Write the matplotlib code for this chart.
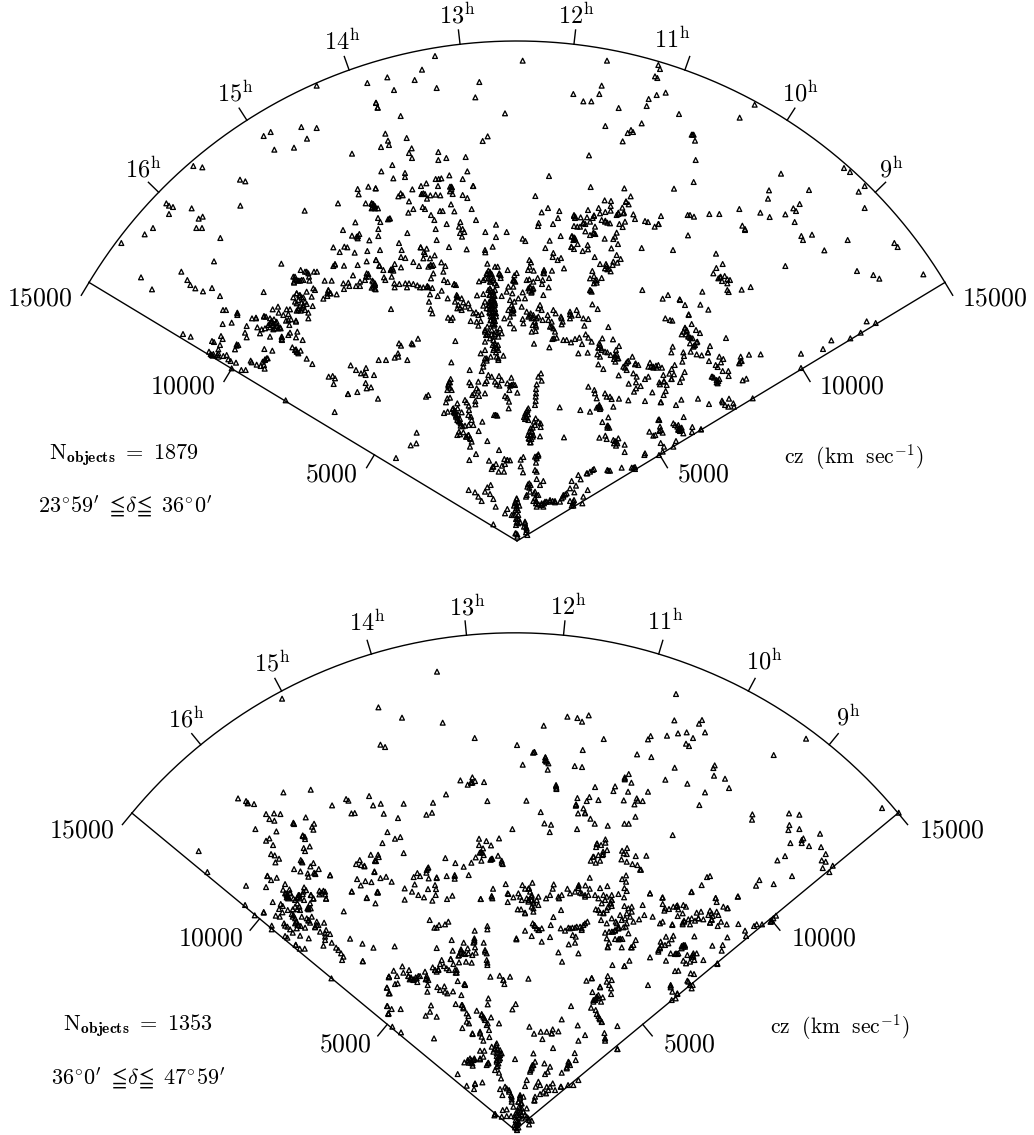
#!/usr/bin/env python3
# Redshift wedge diagrams, two declination slices.
# Galaxy positions were digitised from six sheets per slice: each reading is
# (right, down) from the sheet corner, in steps of about 10 km/s.

import numpy as np
import matplotlib
matplotlib.use("Agg")
from matplotlib import pyplot as plt

W, H = 1034, 1135

hour_ticks = [9, 10, 11, 12, 13, 14, 15, 16]
cz_ticks = [5000, 10000, 15000]
ra_min, ra_max, ra_mid = 8.0, 17.0, 12.5
cz_max = 15000.0

upper_n_objects = 1879
lower_n_objects = 1353
upper_dec = r"$23^{\circ}59^{\prime}\ \leqq\!\delta\!\leqq\ 36^{\circ}0^{\prime}$"
lower_dec = r"$36^{\circ}0^{\prime}\ \leqq\!\delta\!\leqq\ 47^{\circ}59^{\prime}$"

# degrees of wedge per hour of RA in each slice
upper_rate = 13.08
lower_rate = 11.2

# sheet corners (km/s east, km/s north of the apex)
upper_corners = [(-12810, 14430), (-4410, 14730), (3990, 14430), (-14310, 7530), (-4410, 7380), (3990, 7380)]
lower_corners = [(-11615, 14180), (-3922, 14482), (3771, 14180), (-14029, 7241), (-3922, 7241), (3771, 7241)]
upper_step = 10.0
lower_step = 10.06

upper_nw = [(680,77),(832,69),(858,128),(863,143),(310,318),(337,322),(521,228),(542,216),(634,201),(680,204),(651,236),(553,269),(612,263),(786,281),(450,359),(466,364),(803,387),(835,380),(857,385),(806,403),(229,430),(237,437),(249,441),(237,462),(305,445),(451,437),(644,452),(744,430),(827,430),(845,430),(850,435),(855,445),(845,445),(338,470),(326,476),(319,504),(336,504),(189,504),(164,523),(94,549),(391,534),(796,487),(759,510),(786,527),(800,530),(808,522),(803,535),(838,541),(730,562),(763,560),(772,562),(749,576),(794,578),(832,573),(372,604),(574,611),(274,635),(153,652),(292,660),(301,675),(316,685),(339,694),(366,684),(390,708),(186,688),(521,696),(632,630),(645,635),(655,640),(657,650),(672,635),(681,635),(610,650),(615,658),(625,662),(635,660),(612,665),(658,662),(704,662),(725,662),(789,646),(762,617),(803,615),(830,604),(858,600),(735,612),(730,618),(830,640),(835,650),(825,660),(760,670),(775,668),(810,665),(850,665),(762,687),(778,678),(798,678),(810,678),(855,675),(845,683),(857,688),(670,685),(675,690),(650,695),(620,700),(630,705),(610,712),(640,712),(665,710),(715,692),(720,700),(740,703),(712,708),(700,716),
    (615,650),(620,660),(630,662),(612,668),(640,660),(620,700),(628,706),(635,712),(715,690),(722,700),(712,700),(650,635),(735,614),(850,432),(848,442),(804,528),(828,650),(835,642)]

upper_n = [(195,18),(458,32),(711,32),(156,59),(52,82),(134,90),(72,120),(200,114),(328,96),(316,142),(610,132),(695,107),(688,132),(640,154),(664,154),(865,45),(855,79),(862,84),(860,135),(836,147),(830,168),(746,174),(815,220),(706,228),(18,159),(23,173),(92,198),(405,190),(46,251),(110,264),(54,272),(57,285),(33,291),(338,273),(353,259),(783,240),(773,249),(789,246),(758,274),(125,295),(117,309),(126,324),(205,306),(205,330),(229,324),(287,321),(657,316),(67,345),(34,364),(105,369),(105,381),(70,385),(292,364),(238,376),(197,387),(206,387),(214,385),(278,387),(537,378),(17,415),(127,418),(153,408),(169,400),(204,408),(244,410),(240,424),(248,432),(309,408),(662,411),(763,415),(782,439),(92,430),(85,439),(98,436),(155,432),(165,432),(181,436),(171,446),(197,434),(211,436),(278,435),(292,444),(496,438),(704,451),(723,453),(768,456),(776,463),(117,454),(5,460),(10,465),(15,468),(24,475),(243,463),(158,471),(165,477),(130,477),(115,488),(210,483),(218,483),(253,484),(305,477),(534,474),(515,487),(568,483),(654,480),(686,474),(722,468),(757,473),(183,495),(24,504),(58,506),(193,510),(31,516),(318,510),(230,522),(271,516),(267,530),(378,524),(506,519),(504,528),(549,522),(564,504),(612,498),(615,504),(632,502),(651,502),(672,496),(690,490),(706,486),(722,482),(745,492),(760,490),(790,493),(795,507),(825,513),(834,516),(865,522),(854,530),(612,528),(622,530),(630,530),(640,520),(660,515),(675,530),(695,510),(705,515),(720,520),(748,522),(765,515),(758,531),(197,537),(25,537),(25,558),(112,549),(278,537),(270,549),(283,546),(276,560),(346,546),(410,546),(378,561),(646,544),(672,550),(660,555),(740,548),(735,560),(730,567),(605,560),(615,565),(610,570),(704,566),(200,570),(87,579),(458,566),(466,573),(539,572),(572,558),(623,582),(744,582),(604,591),(612,597),(653,585),(654,598),(638,603),(724,595),(815,594),(30,600),(95,600),(237,591),(290,598),(345,600),(368,590),(526,594),(152,592),(170,596),(162,606),(165,612),(346,607),(550,609),(548,621),(573,624),(563,630),(194,616),(93,621),(106,624),(18,630),(160,625),(180,625),(130,636),(214,637),(226,648),(182,645),(190,645),(175,650),(147,648),(93,652),(28,646),(40,660),(63,658),(70,662),(74,642),(65,680),(42,682),(46,690),(674,621),(740,615),(752,627),(730,635),(690,642),(708,642),(742,638),(728,645),(705,655),(712,658),(722,664),(667,663),(660,685),(672,678),(680,690),(672,700),(695,684),(660,720),(665,725),(817,720),(582,655),(546,662),(522,660),(522,670),(478,630),(483,637),(479,650),(474,660),(491,662),(478,688),(503,684),(518,690),(537,684),(470,690),(516,702),(536,712),(490,695),(520,735),(352,641),(375,650),(383,650),(355,662),(350,670),(360,670),(388,670),(413,660),(440,669),(433,676),(345,685),(360,685),(370,685),(392,684),(327,694),(340,690),(360,695),(375,700),(430,690),(436,695),(410,725),(380,705),(415,710),(430,710),(427,730),(360,715),(365,725),(360,735),(370,735),(365,745),(375,720),(340,732),(321,736),(395,738),(445,745),(480,710),(490,715),(485,725),(475,715),(458,727),(465,745),(222,690),(233,696),(253,702),(190,670),(183,685),(220,665),(15,700),(7,692),(14,716),(73,700),(88,702),(106,700),(117,700),(130,702),(142,706),(74,712),(111,712),(150,712),(160,712),(172,710),(187,714),(215,722),(203,738),(180,733),(233,745),(260,735),(275,745),(262,742),
    (360,665),(352,672),(365,672),(355,685),(362,695),(368,690),(388,672),(433,692),(355,720),(362,720),(370,725),(358,735),(366,735),(374,738),(480,712),(488,718),(484,728),(478,722),(240,410),(246,412),(155,432),(160,430),(54,508),(60,505),(28,648),(62,660),(68,656),(172,708),(176,712),(252,703),(258,705),(262,738),(612,495),(616,500),(640,518),(646,522),(672,498),(668,504),(706,512),(712,518),(745,488),(740,495),(762,488),(768,454),(606,558),(612,562),(615,568),(604,590),(670,548),(676,552),(710,648),(716,656),(675,692),(680,698),(662,722),(522,662),(520,668),(430,692),(310,408),(244,418),(152,592),(182,645),(186,648),(392,676),(14,702),(10,710),(5,462),(14,470)]

upper_ne = [(314,134),(47,98),(87,162),(269,173),(30,27),(128,224),(135,242),(137,300),(393,341),(131,366),(72,386),(582,324),(600,336),(644,378),(626,395),(357,391),(354,416),(477,390),(644,444),(268,447),(449,432),(430,445),(438,453),(33,468),(113,465),(120,465),(132,470),(178,462),(208,462),(331,458),(359,471),(406,463),(26,492),(277,497),(285,510),(434,486),(454,528),(459,540),(486,524),(593,540),(114,526),(69,570),(523,571),(733,549),(743,561),(198,581),(218,612),(199,624),(406,618),(190,640),(205,655),(212,650),(224,648),(232,658),(240,660),(216,663),(232,670),(621,633),(670,645),(688,656),(820,643),(157,695),(232,690),(236,696),(275,689),(302,681),(54,705),(38,716),(89,718),(125,224),(131,224),(285,507),(210,652)]

upper_sw = [(429,132),(452,140),(549,60),(558,60),(592,70),(592,75),(636,85),(648,85),(672,80),(678,80),(698,58),(714,50),(740,58),(750,58),(765,35),(775,60),(785,55),(790,45),(795,35),(800,42),(805,68),(818,48),(805,85),(730,75),(745,72),(716,68),(548,102),(575,98),(620,108),(652,112),(665,118),(675,115),(690,85),(695,95),(700,100),(710,95),(685,105),(690,112),(705,115),(715,115),(722,115),(738,92),(753,88),(768,95),(748,105),(615,128),(620,142),(660,130),(690,140),(725,140),(725,148),(745,135),(750,128),(772,125),(768,142),(788,150),(516,153),(522,156),(543,138),(548,147),(540,165),(595,165),(590,167),(585,178),(673,177),(697,182),(757,172),(765,180),(770,185),(782,182),(775,190),(507,185),(512,192),(518,197),(535,178),(535,190),(535,200),(550,198),(560,195),(565,208),(572,213),(588,218),(800,206),(817,222),(632,212),(635,217),(650,224),(662,228),(668,215),(675,208),(683,205),(672,225),(674,236),(575,235),(604,240),(617,240),(932,226),(948,240),(963,250),(973,248),(978,234),(977,255),(866,260),(878,258),(885,265),(881,282),(977,279),(980,295),(952,306),(924,312),(737,331),(884,366),
    (770,40),(775,30),(785,38),(790,50),(795,60),(775,55),(770,62),(782,62),(695,92),(702,88),(708,100),(698,106),(712,108),(720,112),(726,142),(726,150),(592,68),(768,92),(515,195),(520,192),(532,195),(675,210),(680,205),(768,178),(772,186),(924,312),(590,163),(648,83),(672,78),(745,90),(690,100),(700,118)]

upper_s = [(63,42),(177,20),(182,42),(187,55),(234,68),(243,75),(248,68),(256,138),(144,131),(87,145),(93,152),(125,145),(128,148),(84,175),(74,188),(85,185),(112,195),(26,195),(48,195),(12,240),(3,277),(24,311),(244,202),(299,225),(168,305),(175,300),(140,413),(139,445),(122,451),(78,489),
    (365,15),(372,15),(360,25),(375,25),(368,35),(362,40),(375,42),(370,50),(360,55),(378,55),(368,62),(372,70),(362,75),(375,78),(368,85),(372,92),
    (255,20),(265,30),(270,38),(280,22),(285,35),(295,25),(300,40),(310,55),(318,52),(325,60),(335,57),(345,20),(340,32),(350,40),(262,40),(275,45),(302,78),(320,80),(325,92),(332,78),(352,95),
    (345,105),(355,112),(365,105),(378,110),(390,100),(348,120),(360,130),(370,125),(385,125),(395,115),(375,145),(380,155),(372,160),(385,165),(370,135),(345,140),(345,165),(332,175),(362,185),(400,182),(345,190),(350,197),(380,185),(385,195),(340,215),(335,228),(355,240),(365,245),(387,243),(345,265),(350,258),(325,260),(303,270),(298,262),(320,280),(325,287),(345,295),(375,260),(380,268),(395,255),(388,272),(424,248),(425,270),(435,270),(412,265),(418,285),(442,293),(405,303),(412,308),(417,320),(416,340),
    (242,252),(237,262),(235,272),(232,285),(245,285),(307,300),(312,295),(327,303),(285,315),(290,322),(240,308),(232,310),(228,322),(262,325),(316,318),(316,328),(296,332),(263,340),(233,350),(222,354),(250,340),(252,348),(255,355),(258,365),(262,375),(268,380),(272,392),(285,392),(275,352),(297,345),(295,360),(303,365),(305,375),(310,390),(337,380),(326,408),(296,390),
    (377,360),(267,410),(270,418),(262,420),(280,412),(295,420),(290,425),(300,430),(305,440),(352,438),(300,455),(318,477),(298,495),(387,465),(357,497),(403,492),(412,495),(420,496),(378,507),(370,515),(365,522),(396,512),(405,507),(386,530),(402,530),
    (460,486),(452,494),(452,514),(459,532),(495,485),(505,478),(500,490),(498,503),(495,525),(500,530),
    (513,235),(505,245),(515,257),(500,268),(498,282),(498,295),(497,305),(497,318),(495,330),(475,340),(470,350),(468,362),(465,372),(475,375),(497,370),(492,380),(505,380),(512,385),(512,396),(495,390),(488,398),(485,410),(480,420),(478,432),(488,425),(482,442),(510,424),(582,427),(569,337),(631,345),(660,350),(655,275),(673,285),(675,295),(680,310),(705,295),(710,305),(720,305),(725,312),(747,311),(775,316),(825,318),(730,335),(685,335),(690,342),(688,330),(715,367),(697,381),(714,392),(712,398),(688,428),(706,422),(710,432),(730,435),(740,440),(745,430),(738,452),(764,449),(764,471),(825,475),(823,480),(838,410),(850,422),(856,420),(865,375),(868,408),
    (420,15),(433,20),(425,30),(430,42),(415,45),(430,55),(420,65),(403,70),(420,85),(432,100),(455,35),(458,72),(460,85),(470,50),(482,55),(475,65),(490,60),(485,70),(495,80),(488,90),(485,110),(497,108),(510,30),(505,40),(515,45),(505,65),(518,75),(498,95),(533,60),(550,45),(557,55),(535,75),(545,80),(540,95),(550,100),(555,110),(573,65),(578,80),(600,50),(605,62),(620,45),(625,60),(640,70),(655,72),(600,70),(643,92),(575,88),(683,42),(667,28),(715,96),(647,118),(655,128),(628,128),(615,132),(603,142),(590,135),(580,135),(552,130),(560,128),(547,132),(636,147),(492,146),(538,157),(625,175),(653,173),(665,140),(697,130),(688,145),(685,158),(695,165),(682,178),(690,185),(705,170),(712,172),(722,180),(729,133),(747,153),(738,165),(735,180),(745,190),(736,200),(685,208),(700,222),(746,241),(787,185),(775,198),(768,205),(797,205),(805,210),(760,215),(770,225),(790,235),(840,203),(835,215),(850,215),(860,218),(865,210),(835,245),(825,252),(800,245),(798,262),(776,266),(812,273),(798,280),(792,290),(847,292),(868,262),
    (296,585),(315,592),(345,590),(352,577),(362,570),(360,597),(325,605),(335,618),(370,612),(377,635),(412,642),(405,655),(370,688),(440,610),(435,625),(440,640),(430,660),(442,670),(445,685),(438,715),(442,725),(465,680),(468,695),(470,705),(472,720),(478,565),(472,575),(500,552),(520,558),(510,570),(470,600),(480,590),(495,590),(495,610),(498,625),(515,625),(525,620),(520,635),(505,600),(500,635),(540,620),(555,618),(570,620),(580,605),(590,595),(600,580),(605,558),(618,572),(613,592),(625,540),(632,553),(653,585),(640,605),(610,620),(610,632),(637,625),(650,535),(660,530),(672,522),(715,527),(755,518),(790,518),(795,522)]

# tight knots of the same sheet, read separately
upper_s_knots = [(358,20),(366,20),(374,20),(358,30),(366,30),(374,30),(358,42),(366,42),(374,42),(358,52),(366,52),(374,52),(362,64),(370,64),(378,64),(362,76),(370,76),(366,88),(374,88),(345,110),(352,118),(365,118),(374,118),(383,112),(368,150),(376,150),(384,150),(370,165),(380,160),(378,172),
    (248,342),(252,352),(258,360),(262,368),(266,378),(272,385),(278,394),(256,348),(264,358),(270,372),
    (482,400),(478,410),(486,410),(474,420),(482,420),(490,420),(476,430),(484,432),(480,442),(472,345),(466,355),(474,358),(462,366),(470,368),
    (440,612),(436,620),(444,622),(432,632),(440,632),(448,632),(436,645),(444,645),(425,660),(435,660),(445,660),(438,672),(446,672),(440,682),(450,682),(438,690),(465,685),(462,695),(470,700),(468,712),(436,715),(442,718),(474,568),(482,570),(478,578),(468,605),(492,595),(500,600),(490,618),(498,618),(506,628),(514,630),(522,625),(530,620),(540,615),(548,618),(555,622),(600,618),(608,625),(612,615),(605,632),(580,600),(575,610),(586,598),(652,535),(668,525),(712,525),(720,527),(785,518),(795,516),
    (690,150),(686,158),(694,160),(735,185),(740,178),(742,190),(732,192),(850,218),(843,215),(858,212),(772,200),(795,208),(765,218),(712,392),(718,398),(735,438),(742,445),(732,445),(688,335),(692,338),(680,338),(296,420),(288,425),(302,432),(425,270),(430,268),(420,272),(240,262),(235,268),(240,278),(377,360),(372,360),(382,362),(500,484),(505,482),(368,515),(412,495),(350,190),(340,205),(385,190),(428,40),(425,50),(430,45),(480,62),(490,68),(500,70),(575,70),(600,58),(545,95),(497,90)]

upper_se = [(90,15),(105,30),(151,29),(175,44),(116,60),(46,70),(60,75),(67,77),(125,87),(105,100),(110,105),(95,118),(138,105),(150,114),(115,125),(122,128),(228,129),(120,145),(135,150),(130,155),(142,140),(180,153),(68,155),(64,172),(100,172),(122,170),(140,178),(155,181),(174,172),(102,183),(208,185),(220,192),(177,198),(97,200),(197,210),(203,216),(213,202),(272,185),(268,205),(275,198),(297,179),(332,178),(453,176),(519,162),(544,136),(601,130),(632,113),(650,79),(677,84),(453,219),(218,228),(235,228),(236,243),(185,245),(192,248),(200,255),(208,252),(203,265),(278,256),(289,251),(104,231),(96,248),(90,261),(74,210),(65,222),(72,238),(58,236),(65,252),(36,218),(40,240),(42,258),(30,268),(50,270),(47,288),(41,300),(33,321),(94,314),(144,311),(177,327),(78,330),(216,317),(218,322),(237,311),(225,330),(235,335),(250,325),(252,335),(308,310),(101,366),(27,373),(30,395),(32,405),(38,413),(70,385),(75,390),(85,390),(90,400),(95,405),(85,405),(100,415),(127,396),(126,411),(153,403),(32,444),(42,455),(78,438),(70,455),(38,470),(27,480),
    (105,98),(110,108),(115,122),(120,128),(128,130),(100,110),(108,118),(188,245),(200,262),(205,258),(268,203),(272,198),(85,402),(90,408),(95,398),(82,395),(153,403),(28,375),(42,260),(64,252),(174,172),(116,58),(32,322),(132,152),(140,142)]

lower_nw = [(456,116),(745,142),(751,254),(765,261),(324,415),(348,423),(353,430),(372,432),(460,397),(542,389),(606,436),(648,417),(655,422),(717,408),(729,436),(752,431),(664,460),(674,459),(761,461),(408,462),(432,460),(451,462),(418,477),(433,482),(527,472),(490,490),(552,491),(546,500),(550,509),(376,507),(439,514),(772,516),(757,549),(418,535),(408,542),(518,528),(525,537),(429,555),(539,559),(521,564),(525,573),(206,573),(423,582),(434,586),(447,596),(436,607),(722,584),(744,584),(746,591),(689,600),(678,612),(693,615),(703,619),(735,603),(512,600),(517,607),(550,609),(541,619),(566,627),(492,627),(511,634),(533,640),(535,650),(555,640),(232,636),(412,648),(423,660),(440,653),(600,646),(733,636),(751,654),(768,650),(681,657),(706,663),(724,666),(692,676),(348,677),(408,681),(465,672),(459,689),(478,688),(468,700),(480,700),(522,682),(528,690),(508,705),(502,712),(490,715),(518,702),(470,712),(568,692),(580,692),(568,703),(585,703),(543,705),(665,694),(742,697),(710,714),(550,716),(588,716),
    (353,428),(490,488),(492,492),(518,526),(524,530),(515,604),(552,638),(556,642),(600,645),(733,634),(470,705),(474,715),(505,710),(510,715),(412,647),(735,601),(738,603),(703,617),(742,695)]

lower_n = [(156,65),(51,203),(173,218),(547,200),(577,204),(591,215),(611,196),(476,227),(269,264),(656,267),(396,285),(593,300),(448,306),(756,313),(481,322),(482,332),(490,340),(413,344),(569,348),(591,351),(488,359),(731,372),(719,385),(226,391),(262,382),(258,398),(270,393),(248,404),(297,396),(739,398),(513,405),(514,417),(630,411),(690,409),(685,423),(729,425),(183,433),(56,461),(144,458),(307,453),(424,452),(577,444),(613,441),(605,453),(640,450),(716,451),(755,445),(758,452),(748,463),(573,465),(595,475),(600,490),(579,490),(141,488),(124,494),(39,504),(467,486),(616,506),(751,500),(478,520),(498,524),(629,521),(668,527),(718,521),(731,521),(382,537),(576,537),(494,546),(30,566),(46,561),(282,566),(342,565),(304,573),(661,568),(635,582),(648,585),(661,578),(282,585),(318,586),(633,591),(294,595),(666,600),(654,605),(726,594),(711,602),(284,608),(296,615),(640,615),(652,615),(716,610),(725,612),(752,618),(56,609),(181,624),(339,617),(272,622),(318,628),(322,626),(350,632),(624,620),(617,632),(709,628),(725,635),(742,642),(757,645),(632,638),(645,632),(289,632),(259,638),(211,639),(353,642),(236,650),(765,659),(130,652),(125,660),(97,669),(105,678),(86,681),(124,668),(185,678),(209,675),(251,675),(131,685),(155,682),(209,686),(723,676),(614,683),(711,687),(20,695),(89,703),(150,705),(442,698),(362,702),(412,705),(723,695),(506,703),(581,705),(601,706),(667,708),(59,715),(129,717),(324,716),(420,716),(432,714),(503,716),(547,716),(580,714),(614,716),(645,714),(718,714),(153,717),
    (448,306),(444,308),(481,322),(480,330),(484,335),(258,398),(262,398),(513,408),(514,413),(573,463),(572,467),(600,488),(636,580),(654,612),(320,626),(316,629),(292,608),(288,606),(719,382),(719,388),(209,678),(128,655),(430,716),(580,708),(155,684),(350,638),(626,620)]

lower_ne = [(108,102),(103,181),(186,180),(177,191),(195,217),(140,217),(114,220),(81,227),(32,228),(24,238),(159,234),(138,251),(147,258),(498,236),(34,291),(401,285),(224,316),(220,324),(104,323),(222,347),(255,356),(76,359),(142,371),(267,384),(195,397),(24,395),(8,423),(178,435),(726,444),(776,458),(337,463),(336,479),(447,460),(478,464),(448,495),(445,510),(478,507),(540,521),(98,525),(490,535),(485,540),(451,549),(485,549),(507,558),(543,561),(557,582),(19,587),(435,588),(412,601),(545,601),(557,605),(578,617),(3,629),(548,624),(568,636),(456,648),(210,648),(201,651),(185,675),(358,660),(348,677),(401,672),(154,696),(30,700),(67,713),(227,714),(293,710)]

lower_sw = [(585,45),(614,76),(641,68),(665,107),(665,118),(668,36),(705,10),(712,18),(720,8),(745,15),(760,5),(782,15),(790,25),(815,8),(825,5),(828,26),(905,5),(950,23),(983,8),(976,40),(881,64),(692,42),(698,48),(687,57),(697,67),(713,60),(728,58),(750,60),(735,30),(742,40),(748,50),(762,30),(780,40),(775,58),(772,55),(677,77),(689,80),(725,72),(728,80),(735,85),(740,95),(755,80),(770,85),(775,92),(785,80),(800,95),(805,105),(795,110),(822,98),(702,100),(705,107),(712,110),(720,118),(735,100),(745,105),(740,115),(752,108),(765,113),(728,128),(705,138),(712,143),(750,137),(776,145),(810,125),(825,130),(828,120),(840,132),(825,150),(845,158),(820,167),(737,165),(749,176),(764,176),(858,173),(865,180),(873,190),(880,200),(876,210),(900,146),(937,161),(970,173),(938,214),(844,265),(1016,262),(1010,293),(1016,310),(1012,348),(1015,370),
    (712,15),(716,22),(735,50),(742,58),(775,52),(782,55),(730,75),(738,95),(742,105),(800,105),(795,112),(775,90),(780,98),(983,6),(641,66),(737,164),(938,213),(825,140),(1016,260)]

lower_s = [(59,29),(81,5),(100,15),(117,22),(142,32),(152,15),(186,27),(202,17),(287,27),(320,18),(322,25),(368,10),(368,36),(385,22),(400,10),(405,20),(410,30),(425,25),(435,5),(440,15),(430,35),(445,35),(460,20),(455,30),(460,45),(398,58),(408,58),(420,70),(440,50),(445,65),(483,25),(495,15),(520,20),(530,15),(555,10),(570,5),(590,10),(600,20),(610,15),(522,25),(528,60),(505,81),(630,15),(640,25),(655,15),(665,20),(660,30),(650,40),(680,15),(680,30),(675,40),(700,12),(717,22),(725,3),(632,58),(645,68),(655,70),(665,60),(668,52),(680,48),(718,48),(730,55),(740,50),(740,65),(725,70),(705,75),(710,90),(720,85),(735,80),(745,95),(762,88),(648,90),(680,85),(665,100),(692,95),(700,110),(690,120),(672,125),(680,125),(700,115),(722,110),(730,130),(660,128),(665,145),(690,147),(702,147),(712,147),(672,158),(668,172),(710,172),(738,172),(745,165),(752,150),(134,90),(190,95),(180,103),(162,105),(148,113),(155,113),(307,108),(307,118),(269,122),(200,150),(268,145),(268,155),(236,158),(296,158),(265,158),(270,172),(248,175),(155,174),(29,169),(203,182),(228,178),(228,188),(240,192),(250,190),(220,197),(262,195),(272,188),(300,180),(305,190),(197,207),(170,210),(165,222),(205,222),(222,217),(243,215),(260,218),(305,210),(307,218),(307,225),(177,228),(185,235),(192,240),(210,240),(215,248),(143,232),(150,240),(160,240),(52,229),(72,240),(26,242),(55,248),(120,245),(12,260),(36,258),(70,258),(78,265),(85,270),(95,265),(105,258),(97,276),(125,265),(130,270),(128,285),(38,280),(30,282),(6,293),(14,310),(127,305),(157,291),(178,289),(165,300),(180,305),(187,310),(204,304),(218,273),(240,283),(229,315),(316,260),(344,257),(375,260),(355,270),(358,282),(430,266),(443,100),(450,108),(460,120),(470,115),(420,122),(394,145),(440,138),(470,155),(497,105),(495,141),(527,115),(540,122),(555,115),(570,113),(585,110),(595,105),(607,95),(590,120),(563,135),(572,140),(551,163),(570,158),(580,190),(520,187),(531,215),(682,225),(733,212),(718,228),(604,272),(620,264),(668,258),(665,275),(680,270),(672,285),(678,295),(645,292),(622,306),(653,322),(678,312),(640,315),(632,325),(625,335),(648,335),(618,353),(632,360),(635,372),(643,385),(650,395),(558,348),(392,342),(382,358),(530,388),(578,406),(697,408),(658,429),(600,435),(660,445),(580,452),(660,452),(310,325),(308,343),(212,342),(230,345),(235,355),(138,346),(135,365),(122,377),(155,380),(6,348),(20,357),(47,357),(10,370),(275,362),(290,372),(295,380),(318,382),(245,370),(250,378),(300,390),(305,405),(342,400),(245,395),(252,400),(232,414),(312,420),(262,430),(285,430),(290,440),(295,452),(313,441),(22,410),(48,427),(147,445),(433,410),(447,431),(467,425),(485,425),(503,418),(500,430),(520,424),(472,447),(504,474),
    (335,460),(320,470),(330,475),(345,480),(350,490),(335,490),(325,485),(340,500),(335,510),(345,505),(340,520),(335,530),(330,540),(342,548),(348,565),(285,482),(298,482),(285,505),(295,500),(310,520),(305,525),(248,510),(255,505),(265,510),(258,518),(263,527),(238,517),(268,505),(445,490),(390,507),(450,515),(442,525),(440,535),(435,545),(478,520),(495,530),(488,545),(480,552),(530,548),(569,489),(572,510),(550,515),(555,525),(545,535),(218,552),(245,587),(270,582),(267,597),(292,577),(425,570),(420,588),(460,575),(465,585),(452,590),(485,590),(495,590),(503,580),(510,600),(490,600),(475,605),(465,612),(483,610),(528,590),(549,585),(565,585),(580,570),(697,477),(345,597),(360,590),(372,605),(352,615),(380,620),(380,635),(385,650),(448,630),(405,620),(415,620),(400,635),(410,640),(405,655),(400,665),(410,675),(425,655),(420,675),(430,685),(440,692),(432,703),(330,672),(353,660),(365,658),(350,680),(365,678),(378,678),(390,680),(395,695),(388,705),(395,715),(400,700),(392,670)]

lower_s_knots = [(405,625),(400,635),(408,640),(402,650),(410,655),(398,660),(406,665),(395,675),(403,680),(410,685),(392,690),(400,695),(395,705),(390,712),(400,712),(396,720),(415,665),(425,680),(432,690),
    (333,465),(328,478),(338,478),(346,490),(335,498),(342,510),(335,515),(338,528),(345,495),
    (250,512),(258,510),(262,520),(252,518),(285,508),(310,518),(440,530),(436,540),(445,525),(548,525),(552,518),(545,532),
    (365,595),(372,600),(378,615),(380,628),(448,632),(330,672),(328,676),
    (70,258),(78,262),(85,268),(92,262),(100,258),(74,268),(150,240),(155,245),(160,238),(125,258),(122,268),(215,240),(212,248),(228,182),(235,190),(222,195),(240,285),(238,282),(12,260),(10,372),
    (232,345),(235,352),(290,375),(298,385),(308,400),(640,378),(645,388),(650,396),(635,320),(630,330),(640,325),(625,330),(645,290),(620,265),
    (300,185),(268,150),(197,207),(355,270),(394,148),(455,115),(462,120),(448,105),(550,113),(562,113),(575,110),(590,115),(600,100),(700,148),(706,146),(668,170),(740,172),(684,125),(690,122),(718,228),
    (430,30),(440,20),(445,40),(445,55),(440,30),(420,68),(370,12),(320,20),(287,27),(600,15),(585,8),(655,68),(640,60),(680,30),(678,40),(700,115),(715,112),(725,100),(695,100),
    (263,432),(285,425),(450,620),(527,590),(697,477),(660,445),(500,430),(270,580),(308,520),(268,508),(405,615)]

lower_se = [(30,10),(68,22),(155,5),(227,24),(230,36),(294,19),(68,42),(8,45),(75,55),(87,57),(100,50),(110,48),(115,58),(130,45),(138,50),(73,62),(128,70),(113,78),(13,75),(38,80),(183,65),(170,68),(205,75),(215,70),(210,62),(230,65),(235,75),(218,78),(250,50),(262,55),(190,88),(175,85),(165,92),(155,85),(145,88),(133,95),(128,103),(97,105),(68,95),(60,100),(150,103),(215,90),(210,98),(243,95),(233,108),(260,103),(295,102),(350,103),(342,108),(366,103),(392,95),(400,85),(408,77),(315,122),(318,138),(262,142),(163,139),(78,140),(100,137),(95,148),(62,155),(65,165),(75,165),(85,160),(130,165),(125,175),(135,170),(60,175),(55,185),(217,167),(248,165),(245,182),(92,190),(105,192),(115,190),(160,190),(170,190),(142,195),(155,200),(30,202),(78,212),(130,212),(138,220),(150,215),(163,210),(190,210),(232,222),(105,243),(115,242),(152,250),(162,252),(145,275),(150,285),(158,285),(155,295),(24,285),(92,287),(92,292),(97,305),(112,312),(107,325),(95,330),
    (110,50),(112,46),(130,170),(125,168),(135,165),(108,190),(112,192),(158,195),(160,200),(55,180),(60,172),(175,85),(128,98),(132,92),(97,103),(210,98),(215,88),(392,95),(396,92),(150,285),(232,220),(263,54),(142,272),(112,310),(92,285)]

upper_sheets = [upper_nw, upper_n, upper_ne, upper_sw, upper_s + upper_s_knots, upper_se]
lower_sheets = [lower_nw, lower_n, lower_ne, lower_sw, lower_s + lower_s_knots, lower_se]

plt.rcParams["mathtext.fontset"] = "cm"


def wedge_xy(ra, cz, rate):
    theta = np.radians((ra_mid - np.asarray(ra, dtype=float)) * rate)
    return cz * np.sin(theta), cz * np.cos(theta)


def sheets_to_plane(sheets, corners, step):
    east, north = [], []
    for readings, (ce, cn) in zip(sheets, corners):
        r = np.array(readings, dtype=float)
        east.append(ce + r[:, 0] * step)
        north.append(cn - r[:, 1] * step)
    return np.concatenate(east), np.concatenate(north)


def draw_wedge(ax, sheets, corners, step, rate):
    # frame
    ras = np.linspace(ra_min, ra_max, 300)
    x, y = wedge_xy(ras, cz_max, rate)
    ax.plot(x, y, color="k", lw=1.0)
    for ra in (ra_min, ra_max):
        x, y = wedge_xy(ra, np.array([0.0, cz_max]), rate)
        ax.plot(x, y, color="k", lw=1.0)

    # hour ticks, radial and outward
    for h in hour_ticks:
        x, y = wedge_xy(h, np.array([cz_max, cz_max + 430]), rate)
        ax.plot(x, y, color="k", lw=1.0)

    # cz ticks, square to the edges and pointing down
    for ra in (ra_min, ra_max):
        th = np.radians((ra_mid - ra) * rate)
        sign = np.sign(th)
        for c in cz_ticks:
            x0, y0 = wedge_xy(ra, c, rate)
            ax.plot([x0, x0 + sign * np.cos(th) * 450], [y0, y0 - abs(np.sin(th)) * 450], color="k", lw=1.0)

    east, north = sheets_to_plane(sheets, corners, step)
    ax.scatter(east, north, marker="^", s=12, facecolors="none", edgecolors="k", linewidths=0.95, zorder=3)


def make_axes(apex_x, apex_y, top_px, bottom_px, km_per_px):
    ax = fig.add_axes([0, 1 - bottom_px / H, 1, (bottom_px - top_px) / H])
    ax.set_xlim(-apex_x * km_per_px, (W - apex_x) * km_per_px)
    ax.set_ylim((apex_y - bottom_px) * km_per_px, (apex_y - top_px) * km_per_px)
    ax.axis("off")
    return ax


def label(x, y, s, size=18.5):
    fig.text(x / W, 1 - y / H, s, ha="center", va="baseline", fontsize=size, color="k")


fig = plt.figure(figsize=(W / 100, H / 100), dpi=100, facecolor="white")

ax1 = make_axes(517, 541, 0, 567, 30.0)
draw_wedge(ax1, upper_sheets, upper_corners, upper_step, upper_rate)
ax2 = make_axes(515, 1130, 567, 1135, 30.17)
draw_wedge(ax2, lower_sheets, lower_corners, lower_step, lower_rate)


def hour_label(h):
    return r"$\mathrm{%d}^{\mathrm{h}}$" % h


# upper slice text
for h, x, y in zip(hour_ticks, [891, 800, 672, 576, 457, 342, 235, 143], [177, 102, 48, 24, 24, 50, 102, 177]):
    label(x, y, hour_label(h), 17.5)
for c, x, y in zip(cz_ticks, [331, 183, 40], [481, 393, 305]):
    label(x, y, r"$\mathrm{%d}$" % c)
for c, x, y in zip(cz_ticks, [703, 852, 995], [481, 393, 305]):
    label(x, y, r"$\mathrm{%d}$" % c)
label(124, 459, r"$\mathrm{N}_{\mathbf{objects}}\ =\ %d$" % upper_n_objects, 16)
label(125, 513, upper_dec, 16)
label(854, 463, r"$\mathrm{cz\ \ (km\ \ sec^{-1})}$", 15.5)

# lower slice text
for h, x, y in zip(hour_ticks, [848, 764, 665, 568, 467, 367, 272, 186], [726, 670, 630, 615, 615, 631, 671, 727]):
    label(x, y, hour_label(h), 17.5)
for c, x, y in zip(cz_ticks, [345, 211, 82], [1052, 945, 838]):
    label(x, y, r"$\mathrm{%d}$" % c)
for c, x, y in zip(cz_ticks, [689, 824, 952], [1052, 945, 838]):
    label(x, y, r"$\mathrm{%d}$" % c)
label(138, 1030, r"$\mathrm{N}_{\mathbf{objects}}\ =\ %d$" % lower_n_objects, 16)
label(138, 1085, lower_dec, 16)
label(840, 1033, r"$\mathrm{cz\ \ (km\ \ sec^{-1})}$", 15.5)

fig.savefig("out.png", dpi=100, facecolor="white")
